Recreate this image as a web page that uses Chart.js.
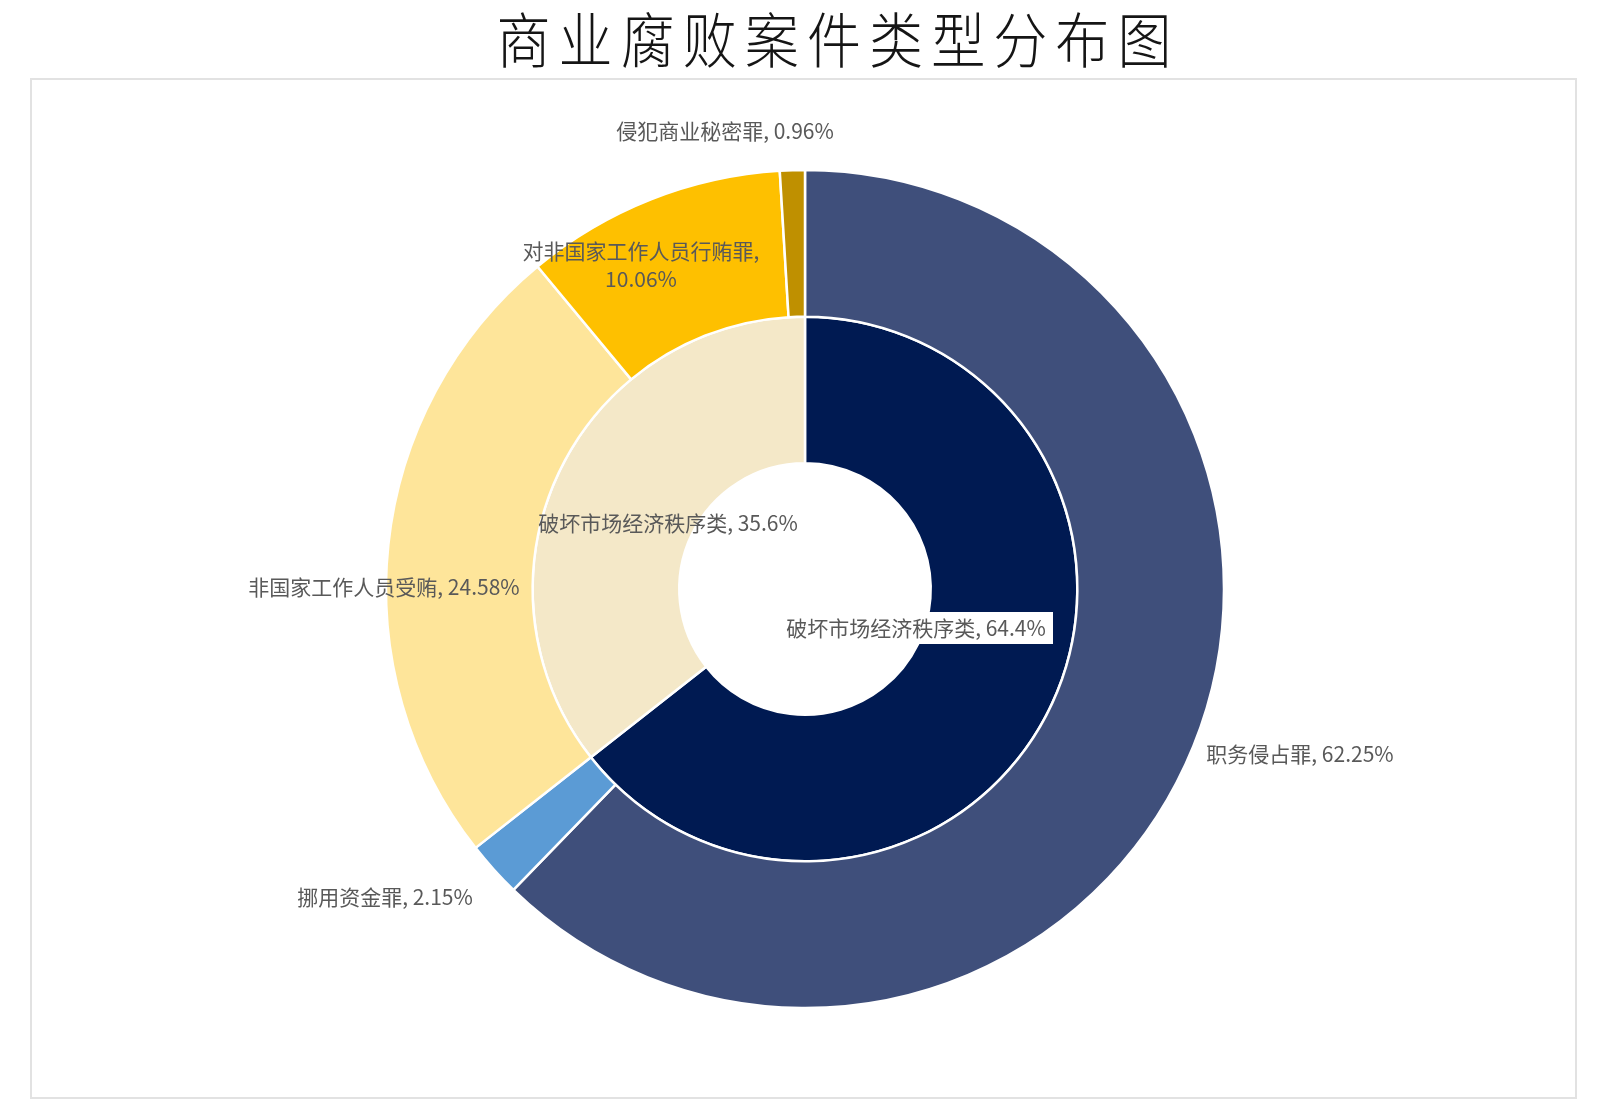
<!DOCTYPE html>
<html>
<head>
<meta charset="utf-8">
<script src="https://cdn.jsdelivr.net/npm/chart.js@4.4.1/dist/chart.umd.min.js"></script>
<style>
  html, body { margin: 0; padding: 0; background: #ffffff; }
  body { width: 1616px; height: 1104px; position: relative; overflow: hidden; }
  #title {
    position: absolute; left: 0; width: 1676px; top: -2px; height: 78px;
    text-align: center; line-height: 78px;
    font-family: "Noto Sans CJK SC", sans-serif; font-weight: 300;
    font-size: 60px; letter-spacing: 9px; color: #151515;
    transform: scaleX(0.9); transform-origin: 838px 0;
  }
  #frame {
    position: absolute; left: 30px; top: 78px; width: 1543px; height: 1017px;
    border: 2px solid #e2e2e2; box-sizing: content-box;
  }
  #c { position: absolute; left: 0; top: 0; width: 1616px; height: 1104px; }
  #err { position: absolute; left: 40px; top: 90px; color: red; font: 16px monospace; }
</style>
</head>
<body>
<div id="frame"></div>
<div id="title">商业腐败案件类型分布图</div>
<canvas id="c" width="1616" height="1104"></canvas>
<div id="err"></div>
<script>
// ---- data ----
const outerCategories = ["职务侵占罪", "挪用资金罪", "非国家工作人员受贿", "对非国家工作人员行贿罪", "侵犯商业秘密罪"];
const outerValues = [62.25, 2.15, 24.58, 10.06, 0.96];
const innerCategories = ["破坏市场经济秩序类", "破坏市场经济秩序类"];
const innerValues = [64.4, 35.6];

// ---- styles ----
const outerColors = ["#3f4f7b", "#5b9bd5", "#fee59a", "#fec000", "#bf9000"];
const innerColors = ["#001a52", "#f4e8c8"];

// label layout (centre of each text line, in page pixels)
const outerLabelPos = [
  [{x: 1300, y: 754}],
  [{x: 385, y: 897}],
  [{x: 384, y: 587}],
  [{x: 641, y: 251}, {x: 641, y: 279}],
  [{x: 725, y: 131}]
];
const innerLabelPos = [
  [{x: 916, y: 628}],
  [{x: 668, y: 523}]
];
const innerLabelBox = [{x: 779, y: 612, w: 274, h: 32}, null];

function fmt(v) { return v + "%"; }

const labelPlugin = {
  id: 'sliceLabels',
  afterDatasetsDraw(chart) {
    const ctx = chart.ctx;
    ctx.save();
    ctx.font = '400 21px "Noto Sans CJK SC", sans-serif';
    ctx.textAlign = 'center';
    ctx.textBaseline = 'middle';
    const sets = [
      {cats: outerCategories, vals: outerValues, pos: outerLabelPos, boxes: []},
      {cats: innerCategories, vals: innerValues, pos: innerLabelPos, boxes: innerLabelBox}
    ];
    sets.forEach((s) => {
      s.cats.forEach((cat, i) => {
        const p = s.pos[i];
        const box = s.boxes[i];
        if (box) {
          ctx.fillStyle = '#ffffff';
          ctx.fillRect(box.x, box.y, box.w, box.h);
        }
        ctx.fillStyle = '#595959';
        if (p.length === 2) {
          ctx.fillText(cat + ",", p[0].x, p[0].y);
          ctx.fillText(fmt(s.vals[i]), p[1].x, p[1].y);
        } else {
          ctx.fillText(cat + ", " + fmt(s.vals[i]), p[0].x, p[0].y);
        }
      });
    });
    ctx.restore();
  }
};

try {
  new Chart(document.getElementById('c'), {
    type: 'doughnut',
    data: {
      labels: outerCategories,
      datasets: [
        { data: outerValues, backgroundColor: outerColors, borderColor: '#ffffff', borderWidth: 2.5 },
        { data: innerValues, backgroundColor: innerColors, borderColor: '#ffffff', borderWidth: 2.5 }
      ]
    },
    options: {
      responsive: false,
      animation: false,
      devicePixelRatio: 1,
      radius: 419,
      cutout: '30%',
      layout: { padding: { left: 0, right: 6, top: 74, bottom: 0 } },
      plugins: { legend: { display: false }, tooltip: { enabled: false }, title: { display: false } },
      events: []
    },
    plugins: [labelPlugin]
  });
} catch (e) {
  document.getElementById('err').textContent = String(e && e.stack || e);
}
if (typeof Chart === 'undefined') document.getElementById('err').textContent = 'Chart not loaded';
</script>
</body>
</html>
